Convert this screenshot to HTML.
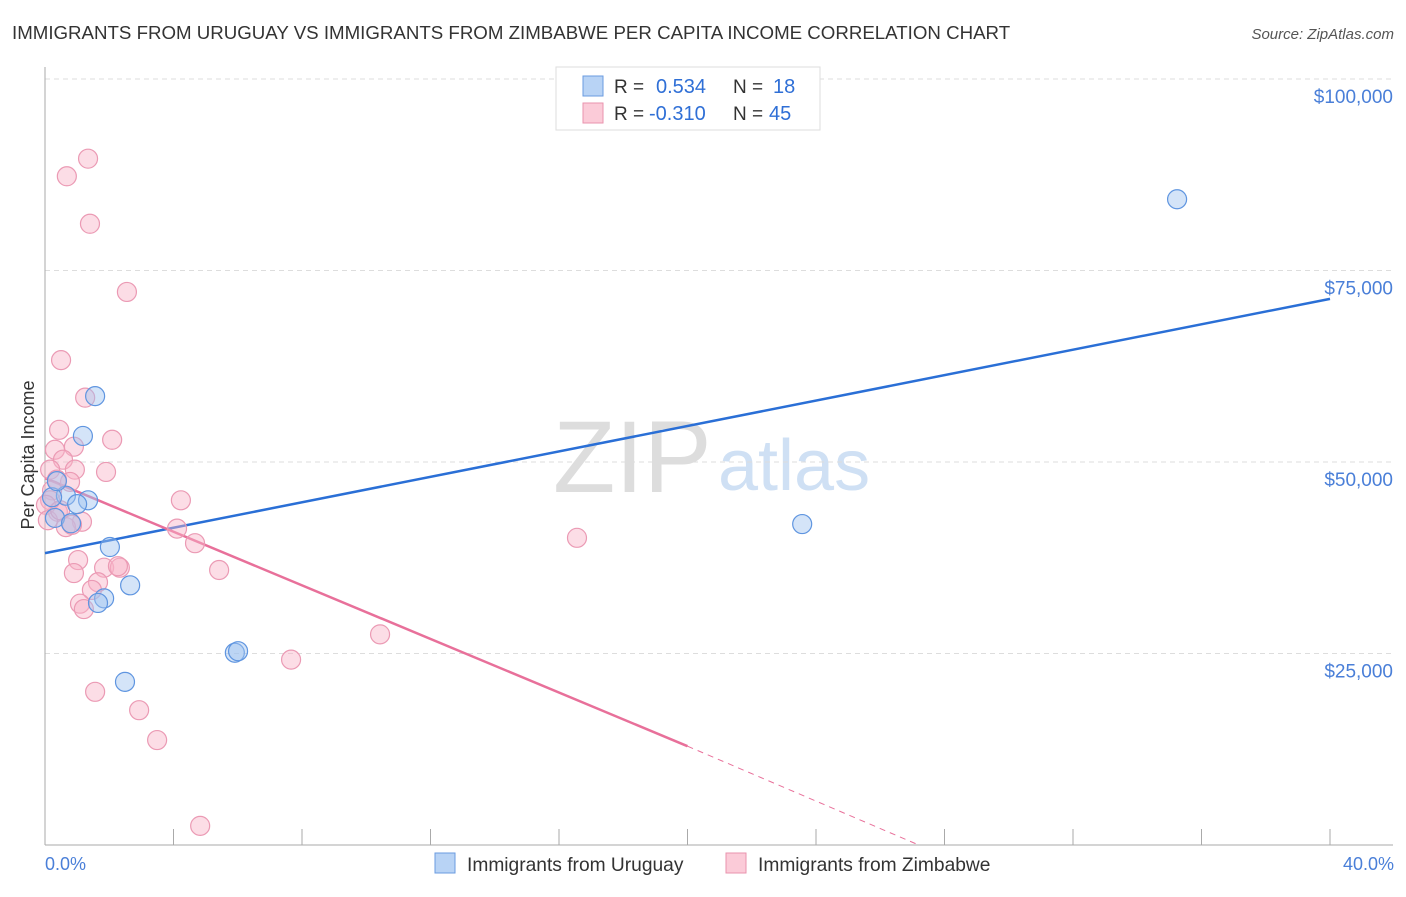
<!DOCTYPE html>
<html><head><meta charset="utf-8"><style>
body{margin:0;background:#fff;font-family:"Liberation Sans",sans-serif;}
svg text{font-family:"Liberation Sans",sans-serif;}
</style></head><body>
<svg id="chart" width="1406" height="892" viewBox="0 0 1406 892" xmlns="http://www.w3.org/2000/svg">
<text x="12" y="39" font-size="18.7" fill="#333">IMMIGRANTS FROM URUGUAY VS IMMIGRANTS FROM ZIMBABWE PER CAPITA INCOME CORRELATION CHART</text>
<text x="1394" y="39" font-size="15" fill="#555" text-anchor="end" font-style="italic">Source: ZipAtlas.com</text>
<text x="553" y="492" font-size="102" fill="#ddd" font-family="Liberation Serif">ZIP</text>
<text x="718" y="490" font-size="72" fill="#cfe0f4">atlas</text>
<g id="grid"></g>
<g id="axes"></g>
<g id="trends"></g>
<g id="points"></g>
<text transform="translate(34,455) rotate(-90)" font-size="18" fill="#333" text-anchor="middle">Per Capita Income</text>
<text x="45" y="870" font-size="18" fill="#4a7fd8">0.0%</text>
<text x="1394" y="870" font-size="18" fill="#4a7fd8" text-anchor="end">40.0%</text>
<g>
<rect x="556" y="67" width="264" height="63" fill="#fff" stroke="#ddd"/>
<rect x="583" y="76" width="20" height="20" fill="#b8d3f5" stroke="#6a9be0"/>
<rect x="583" y="103" width="20" height="20" fill="#fbcbd8" stroke="#ea93ae"/>
<text x="614" y="93" font-size="19" fill="#333">R =</text>
<text x="656" y="93" font-size="20" fill="#2f6fd6">0.534</text>
<text x="733" y="93" font-size="19" fill="#333">N =</text>
<text x="773" y="93" font-size="20" fill="#2f6fd6">18</text>
<text x="614" y="120" font-size="19" fill="#333">R =</text>
<text x="649" y="120" font-size="20" fill="#2f6fd6">-0.310</text>
<text x="733" y="120" font-size="19" fill="#333">N =</text>
<text x="769" y="120" font-size="20" fill="#2f6fd6">45</text>
</g>
<g>
<rect x="435" y="853" width="20" height="20" fill="#b8d3f5" stroke="#6a9be0"/>
<text x="467" y="871" font-size="19.2" fill="#333">Immigrants from Uruguay</text>
<rect x="726" y="853" width="20" height="20" fill="#fbcbd8" stroke="#ea93ae"/>
<text x="758" y="871" font-size="19.2" fill="#333">Immigrants from Zimbabwe</text>
</g>
</svg>
<script>
const yTicks=[25000,50000,75000,100000];
const yTickLabels=["$25,000","$50,000","$75,000","$100,000"];
const xTicks=[0,4,8,12,16,20,24,28,32,36,40];
const uruguayX=[1.56,1.18,1.34,0.65,1.00,0.31,0.22,0.81,2.02,2.65,1.84,1.65,2.49,5.91,6.01,23.57,35.24,0.37];
const uruguayY=[58600,53400,45000,45600,44500,42700,45400,42000,38900,33900,32200,31600,21300,25100,25300,41900,84300,47500];
const zimX=[1.34,0.68,1.40,2.55,0.50,1.25,0.44,2.09,0.90,0.31,0.56,1.90,0.93,0.16,0.78,0.37,0.22,0.40,1.15,0.65,0.84,4.23,4.11,4.67,1.03,0.90,1.84,2.33,1.65,1.46,5.42,1.09,1.21,16.56,10.43,7.66,1.56,2.93,3.49,4.83,0.16,0.03,0.09,2.27,0.47];
const zimY=[89600,87300,81100,72200,63300,58400,54200,52900,52000,51600,50300,48700,49000,49000,47400,47700,46300,43500,42200,41500,41800,45000,41300,39400,37200,35500,36200,36200,34300,33300,35900,31500,30800,40100,27500,24200,20000,17600,13700,2500,45000,44400,42400,36400,43700];
const uruguayTrend=[[0,38100],[40,71300]];
const zimTrendSolid=[[0,47900],[20,12900]];
const zimTrendDash=[[20,12900],[27.2,0]];
const NS='http://www.w3.org/2000/svg';
function sx(v){return 45+v/40*1285;}
function sy(v){return 845-v/25000*191.5;}
function mk(tag,attrs,parent){const e=document.createElementNS(NS,tag);for(const k in attrs)e.setAttribute(k,attrs[k]);parent.appendChild(e);return e;}
const grid=document.getElementById('grid'),axes=document.getElementById('axes'),tr=document.getElementById('trends'),pts=document.getElementById('points');
yTicks.forEach((t,i)=>{
 const l=mk('line',{x1:45,x2:1393,y1:sy(t),y2:sy(t),stroke:'#ddd','stroke-dasharray':'5,4'},grid);
 
 
 const tx=mk('text',{x:1393,y:sy(t)+24,'font-size':19,fill:'#4a7fd8','text-anchor':'end'},grid);
 tx.textContent=yTickLabels[i];
 
 
});
const ya=mk('line',{x1:45,x2:45,y1:67,y2:845,stroke:'#aaa'},axes);


const xa=mk('line',{x1:45,x2:1393,y1:845,y2:845,stroke:'#aaa'},axes);


xTicks.forEach(t=>{
 const k=mk('line',{x1:sx(t),x2:sx(t),y1:829,y2:845,stroke:'#aaa'},axes);
 
 
});
function line(p,color,dash,name){
 const l=mk('line',{x1:sx(p[0][0]),y1:sy(p[0][1]),x2:sx(p[1][0]),y2:sy(p[1][1]),stroke:color,'stroke-width':dash?1:2.5},tr);
 if(dash)l.setAttribute('stroke-dasharray','6,5');
 
 
}
line(uruguayTrend,'#2a6fd6',false,'uruguay-trend-line');
line(zimTrendSolid,'#e8709a',false,'zimbabwe-trend-line');
line(zimTrendDash,'#e8709a',true,'zimbabwe-trend-extension');
zimX.forEach((x,i)=>{
 const c=mk('circle',{cx:sx(x),cy:sy(zimY[i]),r:9.5,fill:'rgba(248,180,200,0.45)',stroke:'#eb9ab4','stroke-width':1.2},pts);
 
 
});
uruguayX.forEach((x,i)=>{
 const c=mk('circle',{cx:sx(x),cy:sy(uruguayY[i]),r:9.5,fill:'rgba(160,195,240,0.45)',stroke:'#5f95e0','stroke-width':1.2},pts);
 
 
});
</script>
</body></html>
